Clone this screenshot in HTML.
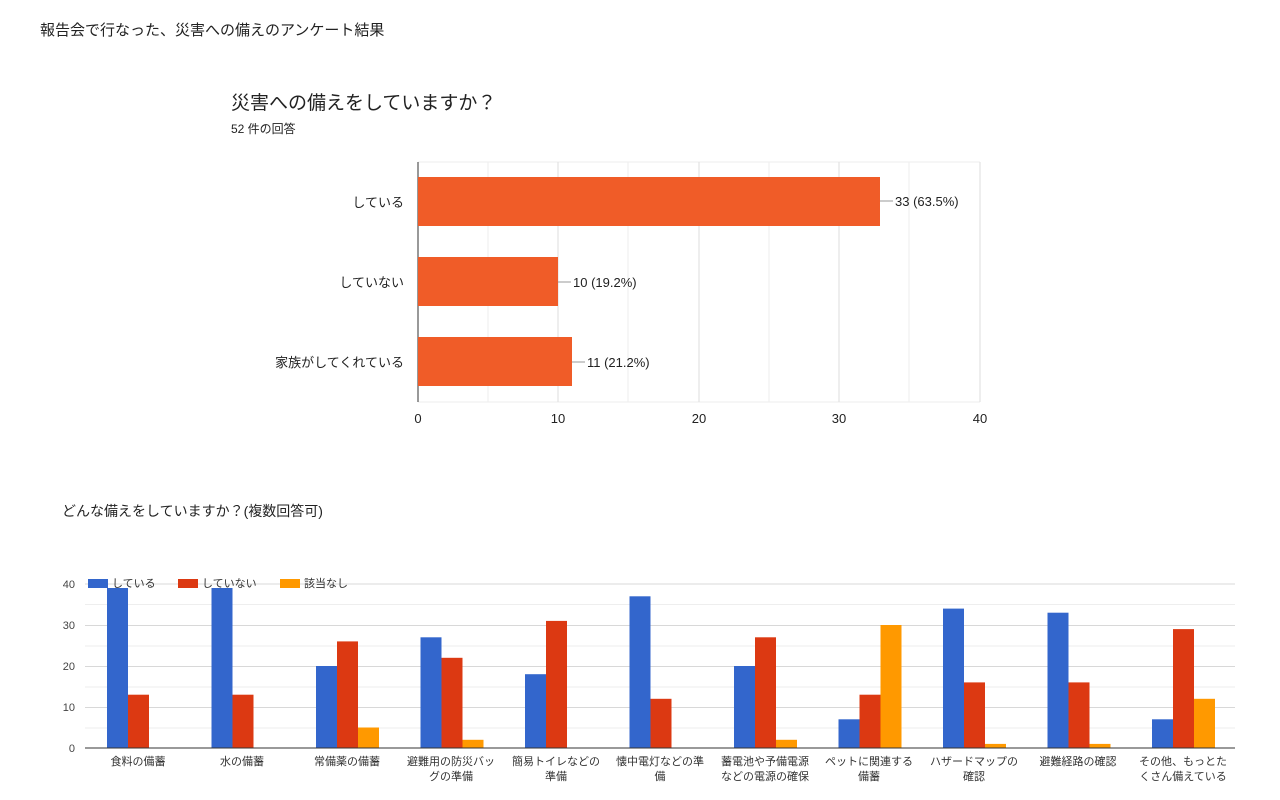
<!DOCTYPE html>
<html><head><meta charset="utf-8"><style>
body{margin:0;background:#fff;}
svg{display:block;font-family:"Liberation Sans","Noto Sans CJK JP",sans-serif;}
</style></head><body>
<svg width="1280" height="800" viewBox="0 0 1280 800">
<text x="40" y="35" font-size="15" fill="#222">報告会で行なった、災害への備えのアンケート結果</text>
<text x="231" y="109" font-size="19" fill="#222">災害への備えをしていますか？</text>
<text x="231" y="133" font-size="12" fill="#222">52 件の回答</text>
<!-- top chart grid -->
<g stroke="#eeeeee" stroke-width="1">
<line x1="418" y1="162" x2="980" y2="162"/>
<line x1="418" y1="402" x2="980" y2="402"/>
<line x1="488" y1="162" x2="488" y2="402"/><line x1="628" y1="162" x2="628" y2="402"/><line x1="769" y1="162" x2="769" y2="402"/><line x1="909" y1="162" x2="909" y2="402"/>
</g>
<g stroke="#dddddd" stroke-width="1">
<line x1="558" y1="162" x2="558" y2="402"/><line x1="699" y1="162" x2="699" y2="402"/><line x1="839" y1="162" x2="839" y2="402"/><line x1="980" y1="162" x2="980" y2="402"/>
</g>
<line x1="418" y1="162" x2="418" y2="402" stroke="#333" stroke-width="1"/>
<g fill="#f05c28">
<rect x="418" y="177" width="462" height="49"/>
<rect x="418" y="257" width="140" height="49"/>
<rect x="418" y="337" width="154" height="49"/>
</g>
<g stroke="#999" stroke-width="1">
<line x1="880" y1="201" x2="893" y2="201"/><line x1="558" y1="282" x2="571" y2="282"/><line x1="572" y1="362" x2="585" y2="362"/>
</g>
<g font-size="13" fill="#222">
<text x="895" y="206">33 (63.5%)</text>
<text x="573" y="287">10 (19.2%)</text>
<text x="587" y="367">11 (21.2%)</text>
<text x="404" y="207" text-anchor="end">している</text>
<text x="404" y="287" text-anchor="end">していない</text>
<text x="404" y="367" text-anchor="end">家族がしてくれている</text>
<text x="418" y="423" text-anchor="middle">0</text>
<text x="558" y="423" text-anchor="middle">10</text>
<text x="699" y="423" text-anchor="middle">20</text>
<text x="839" y="423" text-anchor="middle">30</text>
<text x="980" y="423" text-anchor="middle">40</text>
</g>
<text x="62" y="516" font-size="14" fill="#222">どんな備えをしていますか？(複数回答可)</text>
<!-- bottom chart -->
<g stroke="#eeeeee"><line x1="85" y1="604.5" x2="1235" y2="604.5"/><line x1="85" y1="646" x2="1235" y2="646"/><line x1="85" y1="687" x2="1235" y2="687"/><line x1="85" y1="728" x2="1235" y2="728"/></g>
<g stroke="#d8d8d8"><line x1="85" y1="584" x2="1235" y2="584"/><line x1="85" y1="625.5" x2="1235" y2="625.5"/><line x1="85" y1="666.5" x2="1235" y2="666.5"/><line x1="85" y1="707.5" x2="1235" y2="707.5"/></g>
<g font-size="11" fill="#444" text-anchor="end">
<text x="75" y="588">40</text><text x="75" y="629">30</text><text x="75" y="670">20</text><text x="75" y="711">10</text><text x="75" y="752">0</text>
</g>
<g fill="#3366cc">
<rect x="107" y="588" width="21" height="160"/>
<rect x="211.5" y="588" width="21" height="160"/>
<rect x="316" y="666" width="21" height="82"/>
<rect x="420.5" y="637.3" width="21" height="110.7"/>
<rect x="525" y="674.2" width="21" height="73.8"/>
<rect x="629.5" y="596.3" width="21" height="151.7"/>
<rect x="734" y="666" width="21" height="82"/>
<rect x="838.5" y="719.3" width="21" height="28.7"/>
<rect x="943" y="608.6" width="21" height="139.4"/>
<rect x="1047.5" y="612.7" width="21" height="135.3"/>
<rect x="1152" y="719.3" width="21" height="28.7"/>
</g>
<g fill="#dc3912">
<rect x="128" y="694.7" width="21" height="53.3"/>
<rect x="232.5" y="694.7" width="21" height="53.3"/>
<rect x="337" y="641.4" width="21" height="106.6"/>
<rect x="441.5" y="657.8" width="21" height="90.2"/>
<rect x="546" y="620.9" width="21" height="127.1"/>
<rect x="650.5" y="698.8" width="21" height="49.2"/>
<rect x="755" y="637.3" width="21" height="110.7"/>
<rect x="859.5" y="694.7" width="21" height="53.3"/>
<rect x="964" y="682.4" width="21" height="65.6"/>
<rect x="1068.5" y="682.4" width="21" height="65.6"/>
<rect x="1173" y="629.1" width="21" height="118.9"/>
</g>
<g fill="#ff9900">
<rect x="358" y="727.5" width="21" height="20.5"/>
<rect x="462.5" y="739.8" width="21" height="8.2"/>
<rect x="776" y="739.8" width="21" height="8.2"/>
<rect x="880.5" y="625" width="21" height="123"/>
<rect x="985" y="743.9" width="21" height="4.1"/>
<rect x="1089.5" y="743.9" width="21" height="4.1"/>
<rect x="1194" y="698.8" width="21" height="49.2"/>
</g>
<line x1="85" y1="748" x2="1235" y2="748" stroke="#333"/>
<!-- legend -->
<rect x="88" y="579" width="20" height="9" fill="#3366cc"/><text x="112" y="587" font-size="11" fill="#333">している</text>
<rect x="178" y="579" width="20" height="9" fill="#dc3912"/><text x="202" y="587" font-size="11" fill="#333">していない</text>
<rect x="280" y="579" width="20" height="9" fill="#ff9900"/><text x="304" y="587" font-size="11" fill="#333">該当なし</text>
<g font-size="11" fill="#333" text-anchor="middle">
<text x="138" y="765">食料の備蓄</text>
<text x="242" y="765">水の備蓄</text>
<text x="347" y="765">常備薬の備蓄</text>
<text x="451" y="765">避難用の防災バッ</text><text x="451" y="780">グの準備</text>
<text x="556" y="765">簡易トイレなどの</text><text x="556" y="780">準備</text>
<text x="660" y="765">懐中電灯などの準</text><text x="660" y="780">備</text>
<text x="765" y="765">蓄電池や予備電源</text><text x="765" y="780">などの電源の確保</text>
<text x="869" y="765">ペットに関連する</text><text x="869" y="780">備蓄</text>
<text x="974" y="765">ハザードマップの</text><text x="974" y="780">確認</text>
<text x="1078" y="765">避難経路の確認</text>
<text x="1183" y="765">その他、もっとた</text><text x="1183" y="780">くさん備えている</text>
</g>
</svg>
</body></html>
